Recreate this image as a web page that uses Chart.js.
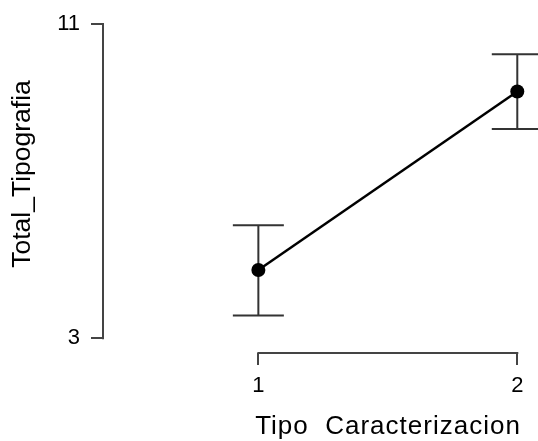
<!DOCTYPE html>
<html>
<head>
<meta charset="utf-8">
<script src="https://cdn.jsdelivr.net/npm/chart.js@4.4.1/dist/chart.umd.min.js"></script>
<style>
  html, body { margin: 0; padding: 0; background: #fff; }
  #wrap { width: 538px; height: 441px; }
</style>
</head>
<body>
<div id="wrap"><canvas id="c" width="538" height="441"></canvas></div>
<script>
// Group means with their interval bounds
const categories = [1, 2];
const means = [4.74, 9.28];
const lower = [3.58, 8.33];
const upper = [5.88, 10.23];
const yTicks = [3, 11];
const xTicks = [1, 2];
const xTitle = 'Tipo  Caracterizacion';
const yTitle = 'Total_Tipografia';

const FONT = '"Liberation Sans", Arial, Helvetica, sans-serif';
const AXIS = '#444';

// Vertical interval bars with caps, drawn underneath the line and points
const errorBars = {
  id: 'errorBars',
  beforeDatasetsDraw(chart) {
    const { ctx, scales: { x, y } } = chart;
    const cap = 25.5;
    ctx.save();
    ctx.strokeStyle = '#333';
    ctx.lineWidth = 2;
    categories.forEach((c, i) => {
      const px = x.getPixelForValue(c);
      const lo = y.getPixelForValue(lower[i]);
      const hi = y.getPixelForValue(upper[i]);
      ctx.beginPath();
      ctx.moveTo(px, lo); ctx.lineTo(px, hi);
      ctx.moveTo(px - cap, hi); ctx.lineTo(px + cap, hi);
      ctx.moveTo(px - cap, lo); ctx.lineTo(px + cap, lo);
      ctx.stroke();
    });
    ctx.restore();
  }
};

// Axis lines that only span the outermost ticks
const rangeAxes = {
  id: 'rangeAxes',
  afterDraw(chart) {
    const { ctx, chartArea, scales: { x, y } } = chart;
    ctx.save();
    ctx.strokeStyle = AXIS;
    ctx.lineWidth = 2;
    ctx.beginPath();
    const yx = chartArea.left;
    ctx.moveTo(yx, y.getPixelForValue(yTicks[0]) + 1);
    ctx.lineTo(yx, y.getPixelForValue(yTicks[yTicks.length - 1]) - 1);
    const xy = chartArea.bottom;
    ctx.moveTo(x.getPixelForValue(xTicks[0]) - 1, xy);
    ctx.lineTo(x.getPixelForValue(xTicks[xTicks.length - 1]) + 1, xy);
    ctx.stroke();
    ctx.restore();
  }
};

// Axis titles
const axisTitles = {
  id: 'axisTitles',
  afterDraw(chart) {
    const { ctx } = chart;
    ctx.save();
    ctx.fillStyle = '#000';
    ctx.textBaseline = 'alphabetic';
    ctx.textAlign = 'center';
    ctx.font = '26px ' + FONT;
    ctx.letterSpacing = '1px';
    ctx.fillText(xTitle, 388, 434);
    ctx.letterSpacing = '0px';
    ctx.font = '26.5px ' + FONT;
    ctx.translate(30, 174);
    ctx.rotate(-Math.PI / 2);
    ctx.fillText(yTitle, 0, 0);
    ctx.restore();
  }
};

const tickFont = { family: FONT, size: 22 };

new Chart(document.getElementById('c'), {
  type: 'scatter',
  data: {
    datasets: [{
      data: categories.map((c, i) => ({ x: c, y: means[i] })),
      showLine: true,
      borderColor: '#000',
      borderWidth: 2.5,
      pointRadius: 7,
      pointHoverRadius: 7,
      pointBackgroundColor: '#000',
      pointBorderColor: '#000',
      pointBorderWidth: 0
    }]
  },
  options: {
    responsive: false,
    animation: false,
    devicePixelRatio: 1,
    layout: { padding: 0, autoPadding: false },
    plugins: { legend: { display: false }, tooltip: { enabled: false } },
    scales: {
      x: {
        type: 'linear',
        min: 0.4,
        max: 2.08,
        afterBuildTicks: s => { s.ticks = xTicks.map(v => ({ value: v })); },
        afterFit: s => { s.height = 88; s.paddingLeft = 0; s.paddingRight = 0; },
        grid: { drawOnChartArea: false, drawTicks: true, tickLength: 12, lineWidth: 2, color: AXIS },
        border: { display: false },
        ticks: { font: tickFont, color: '#000', padding: 8, maxRotation: 0, autoSkip: false, callback: v => String(v) }
      },
      y: {
        type: 'linear',
        min: 2.626,
        max: 11.61,
        afterBuildTicks: s => { s.ticks = yTicks.map(v => ({ value: v })); },
        afterFit: s => { s.width = 103; s.paddingTop = 0; s.paddingBottom = 0; },
        grid: { drawOnChartArea: false, drawTicks: true, tickLength: 12, lineWidth: 2, color: AXIS },
        border: { display: false },
        ticks: { font: tickFont, color: '#000', padding: 11, autoSkip: false, callback: v => String(v) }
      }
    }
  },
  plugins: [errorBars, rangeAxes, axisTitles]
});
</script>
</body>
</html>
